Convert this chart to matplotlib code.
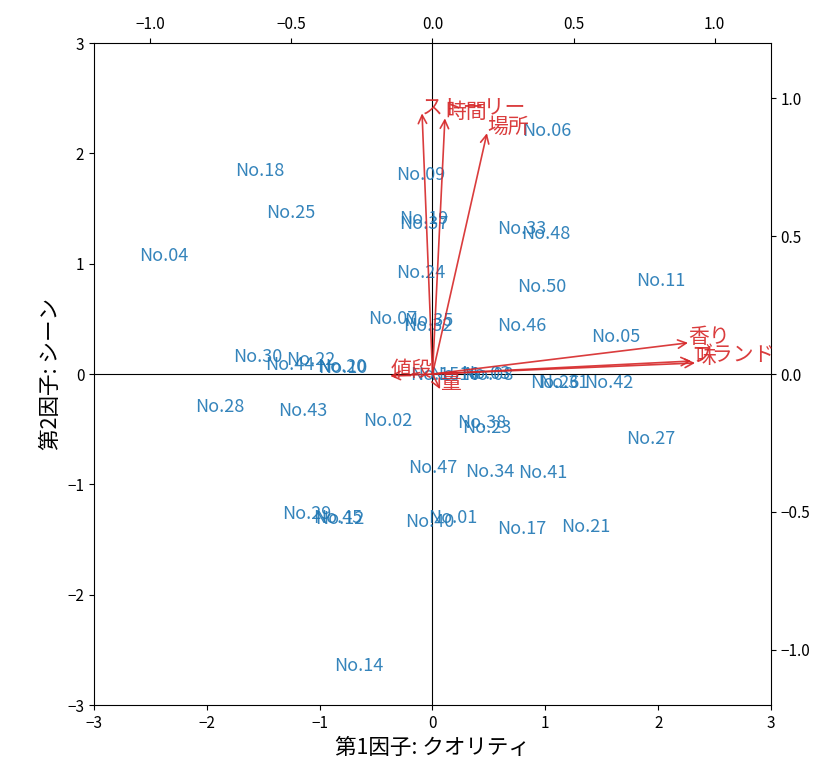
import matplotlib
matplotlib.use("Agg")
import matplotlib.pyplot as plt

plt.rcParams['font.family'] = ['Noto Sans CJK JP', 'DejaVu Sans']

# Scores (main axes)
labels = ["No.06", "No.18", "No.09", "No.25", "No.19", "No.37", "No.33", "No.48",
          "No.04", "No.24", "No.11", "No.50", "No.07", "No.35", "No.32", "No.46",
          "No.05", "No.30", "No.44", "No.22", "No.20", "No.10", "No.15", "No.16",
          "No.03", "No.08", "No.26", "No.31", "No.42", "No.28", "No.43", "No.02",
          "No.38", "No.23", "No.27", "No.47", "No.34", "No.41", "No.29", "No.45",
          "No.12", "No.40", "No.01", "No.17", "No.21", "No.14"]
score_x = [1.015, -1.529, -0.102, -1.254, -0.075, -0.075, 0.793, 1.006,
           -2.380, -0.102, 2.025, 0.970, -0.350, -0.031, -0.040, 0.793,
           1.626, -1.547, -1.263, -1.077, -0.802, -0.793, 0.022, 0.199,
           0.474, 0.501, 1.086, 1.165, 1.564, -1.883, -1.148, -0.394,
           0.439, 0.483, 1.937, 0.004, 0.510, 0.979, -1.112, -0.838,
           -0.820, -0.022, 0.182, 0.793, 1.360, -0.651]
score_y = [2.203, 1.840, 1.804, 1.460, 1.405, 1.360, 1.315, 1.269,
           1.070, 0.916, 0.843, 0.789, 0.498, 0.480, 0.435, 0.435,
           0.335, 0.154, 0.082, 0.127, 0.063, 0.054, -0.009, -0.009,
           0.000, -0.009, -0.082, -0.082, -0.082, -0.299, -0.335, -0.426,
           -0.444, -0.490, -0.589, -0.852, -0.888, -0.898, -1.269, -1.306,
           -1.315, -1.342, -1.306, -1.405, -1.387, -2.647]

# Loadings (secondary axes)
variables = ["ストーリー", "時間", "場所", "香り", "味", "ブランド", "値段", "量"]
load_x = [-0.037, 0.044, 0.193, 0.906, 0.931, 0.917, -0.150, 0.027]
load_y = [0.945, 0.927, 0.873, 0.113, 0.040, 0.047, -0.007, -0.055]

fig = plt.figure(figsize=(8.34, 7.70), dpi=100)
pos = [94/834, 1-705/770, (771-94)/834, (705-43)/770]
ax = fig.add_axes(pos)
ax.set_xlim(-3, 3)
ax.set_ylim(-3, 3)
ax.set_xticks(range(-3, 4))
ax.set_yticks(range(-3, 4))
ax.tick_params(labelsize=11)
ax.axhline(0, color='black', lw=0.8)
ax.axvline(0, color='black', lw=0.8)
for lx, ly, lb in zip(score_x, score_y, labels):
    ax.text(lx, ly, lb, color='tab:blue', alpha=0.9, fontsize=13,
            ha='center', va='center')
ax.set_xlabel("第1因子: クオリティ", fontsize=15.5)
ax.set_ylabel("第2因子: シーン", fontsize=15.5)

ax2 = fig.add_axes(pos, frameon=False)
ax2.set_xlim(-1.2, 1.2)
ax2.set_ylim(-1.2, 1.2)
ax2.xaxis.tick_top()
ax2.yaxis.tick_right()
ax2.set_xticks([-1.0, -0.5, 0.0, 0.5, 1.0])
ax2.set_yticks([-1.0, -0.5, 0.0, 0.5, 1.0])
ax2.tick_params(labelsize=11)
ax2.patch.set_visible(False)
for vx, vy, vn in zip(load_x, load_y, variables):
    ax2.annotate('', xy=(vx, vy), xytext=(0, 0),
                 arrowprops=dict(arrowstyle='->', color='tab:red', alpha=0.9,
                                 lw=1.2, mutation_scale=15,
                                 shrinkA=0, shrinkB=0))
    ax2.text(vx, vy, vn, color='tab:red', alpha=0.9, fontsize=15)

fig.savefig("out.png", dpi=100)
